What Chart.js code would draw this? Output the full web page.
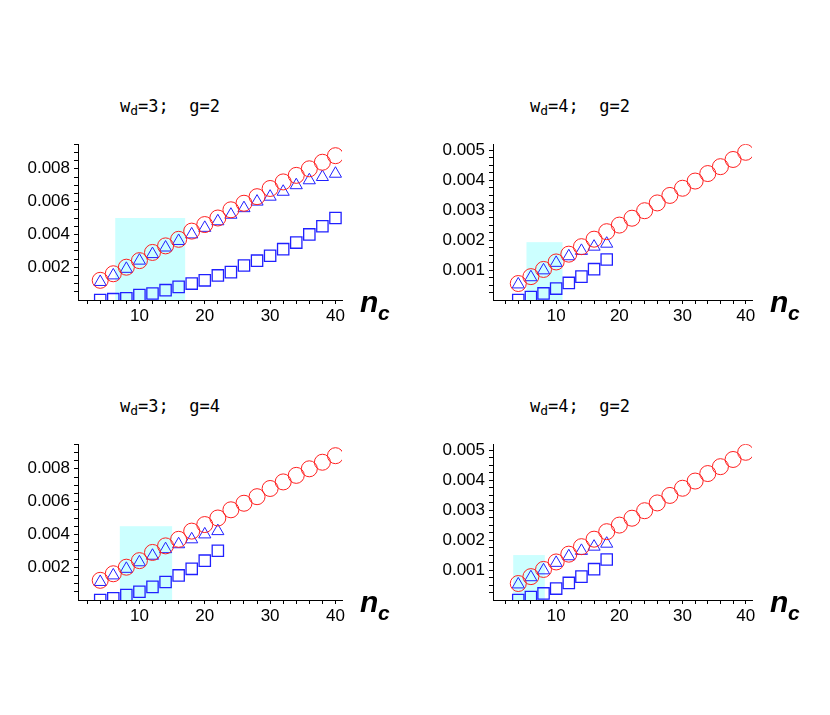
<!DOCTYPE html>
<html><head><meta charset="utf-8">
<script src="https://cdn.jsdelivr.net/npm/chart.js"></script>
<style>
body{margin:0;background:#fff;width:830px;height:715px;position:relative;overflow:hidden}
canvas{position:absolute}
.t{position:absolute;font-family:"DejaVu Sans Mono",monospace;font-size:17px;color:#000;white-space:pre}
.t sub{font-size:13px;vertical-align:-3px}
</style></head><body>
<div class="t" style="left:120px;top:96px">w<sub>d</sub>=3;  g=2</div>
<div class="t" style="left:530px;top:96px">w<sub>d</sub>=4;  g=2</div>
<div class="t" style="left:120px;top:396px">w<sub>d</sub>=3;  g=4</div>
<div class="t" style="left:530px;top:396px">w<sub>d</sub>=4;  g=2</div>
<canvas id="c1" style="left:0;top:130px;width:410px;height:200px"></canvas>
<canvas id="c2" style="left:410px;top:130px;width:410px;height:200px"></canvas>
<canvas id="c3" style="left:0;top:430px;width:410px;height:200px"></canvas>
<canvas id="c4" style="left:410px;top:430px;width:410px;height:200px"></canvas>
<script>
const nFull=[4,6,8,10,12,14,16,18,20,22,24,26,28,30,32,34,36,38,40];
const red3=[0.0012,0.0016,0.0020,0.0024,0.0029,0.0033,0.0037,0.0042,0.0046,0.0050,0.0055,0.0059,0.0063,0.0068,0.0072,0.0076,0.0080,0.0084,0.0088];
const tri1=[0.0011,0.0015,0.0019,0.0024,0.0028,0.0032,0.0036,0.0040,0.0044,0.0048,0.0052,0.0056,0.0060,0.0063,0.0066,0.0070,0.0073,0.0075,0.0077];
const sq1=[0.0000,0.00005,0.0001,0.0003,0.0004,0.0006,0.0008,0.0010,0.0012,0.0015,0.0017,0.0021,0.0024,0.0027,0.0031,0.0035,0.0040,0.0045,0.0050];
const red4=[0.00055,0.00078,0.00102,0.00127,0.00153,0.00178,0.00203,0.00228,0.0025,0.00273,0.00298,0.00324,0.00349,0.00373,0.00397,0.00422,0.00445,0.00469,0.00493];
const tri2=[0.00052,0.00076,0.00099,0.00124,0.00146,0.00164,0.00178,0.00188];
const sq2=[0,0.0001,0.00022,0.00038,0.00057,0.00078,0.00103,0.00135];
const tri3=[0.0011,0.0015,0.0019,0.0023,0.0027,0.0031,0.0034,0.0037,0.0040,0.0042];
const sq3=[0,0.0001,0.0003,0.0005,0.0008,0.0011,0.0015,0.0019,0.0024,0.0030];
const boxes=[[6.3,17,0.005],[5.3,11,0.00193],[7,15,0.0045],[3.2,8.2,0.0015]];

const pts=(ys)=>ys.map((y,i)=>({x:nFull[i],y}));
const F='"Liberation Sans",Arial,sans-serif';
function make(id,box,red,tri,sq,ymax,ystep,ylab,xmin,yw){
 const plug={id:'p'+id,
  beforeDatasetsDraw(c){const{ctx,scales:{x,y}}=c;ctx.save();ctx.fillStyle='#ccffff';
   const x0=x.getPixelForValue(box[0]),x1=x.getPixelForValue(box[1]),y0=y.getPixelForValue(0),y1=y.getPixelForValue(box[2]);
   ctx.fillRect(x0,y1,x1-x0,y0-y1);ctx.restore();},
  afterDraw(c){const{ctx,chartArea:a}=c;ctx.save();ctx.fillStyle='#000';
   ctx.font='italic bold 30px '+F;ctx.textBaseline='alphabetic';ctx.fillText('n',a.right+18,a.bottom+12);
   ctx.font='italic bold 21px '+F;ctx.fillText('c',a.right+36,a.bottom+20);ctx.restore();}};
 new Chart(document.getElementById(id),{type:'scatter',
  data:{datasets:[
   {data:pts(red),pointStyle:'circle',pointRadius:8,borderColor:'#ff2020',backgroundColor:'transparent',borderWidth:1},
   {data:pts(tri),pointStyle:'triangle',pointRadius:7,borderColor:'#2020ff',backgroundColor:'transparent',borderWidth:1},
   {data:pts(sq),pointStyle:'rect',pointRadius:8,borderColor:'#2020ff',backgroundColor:'transparent',borderWidth:1.3}]},
  options:{responsive:false,animation:false,devicePixelRatio:1,
   layout:{padding:{top:10,right:68,left:0,bottom:0}},
   plugins:{legend:{display:false},tooltip:{enabled:false}},
   elements:{point:{hoverRadius:8}},
   scales:{
    x:{type:'linear',min:xmin,max:41,afterFit(s){s.height=30;},
     afterBuildTicks(s){s.ticks=[];for(let v=2;v<=40;v+=2)s.ticks.push({value:v});},
     border:{color:'#000',width:1},grid:{drawOnChartArea:false,tickLength:4,color:'#000'},
     ticks:{color:'#000',font:{family:F,size:17},padding:2,maxRotation:0,autoSkip:false,callback:v=>v%10===0?v:''}},
    y:{min:0,max:ymax,afterFit(s){s.width=yw;},
     afterBuildTicks(s){s.ticks=[];for(let v=ystep;v<=ymax+1e-9;v+=ystep)s.ticks.push({value:+v.toFixed(6)});},
     border:{color:'#000',width:1},grid:{drawOnChartArea:false,tickLength:4,color:'#000'},
     ticks:{color:'#000',font:{family:F,size:17},padding:4,autoSkip:false,
      callback:v=>{const k=Math.round(v/ylab*1e6)/1e6;return Number.isInteger(k)?v.toFixed(3):'';}}}}},
  plugins:[plug]});
}
make('c1',boxes[0],red3,tri1,sq1,0.0095,0.0005,0.002,0.6,78);
make('c2',boxes[1],red4,tri2,sq2,0.0052,0.00025,0.001,0,83);
make('c3',boxes[2],red3,tri3,sq3,0.0095,0.0005,0.002,0.6,78);
make('c4',boxes[3],red4,tri2,sq2,0.0052,0.00025,0.001,0,83);
</script></body></html>
